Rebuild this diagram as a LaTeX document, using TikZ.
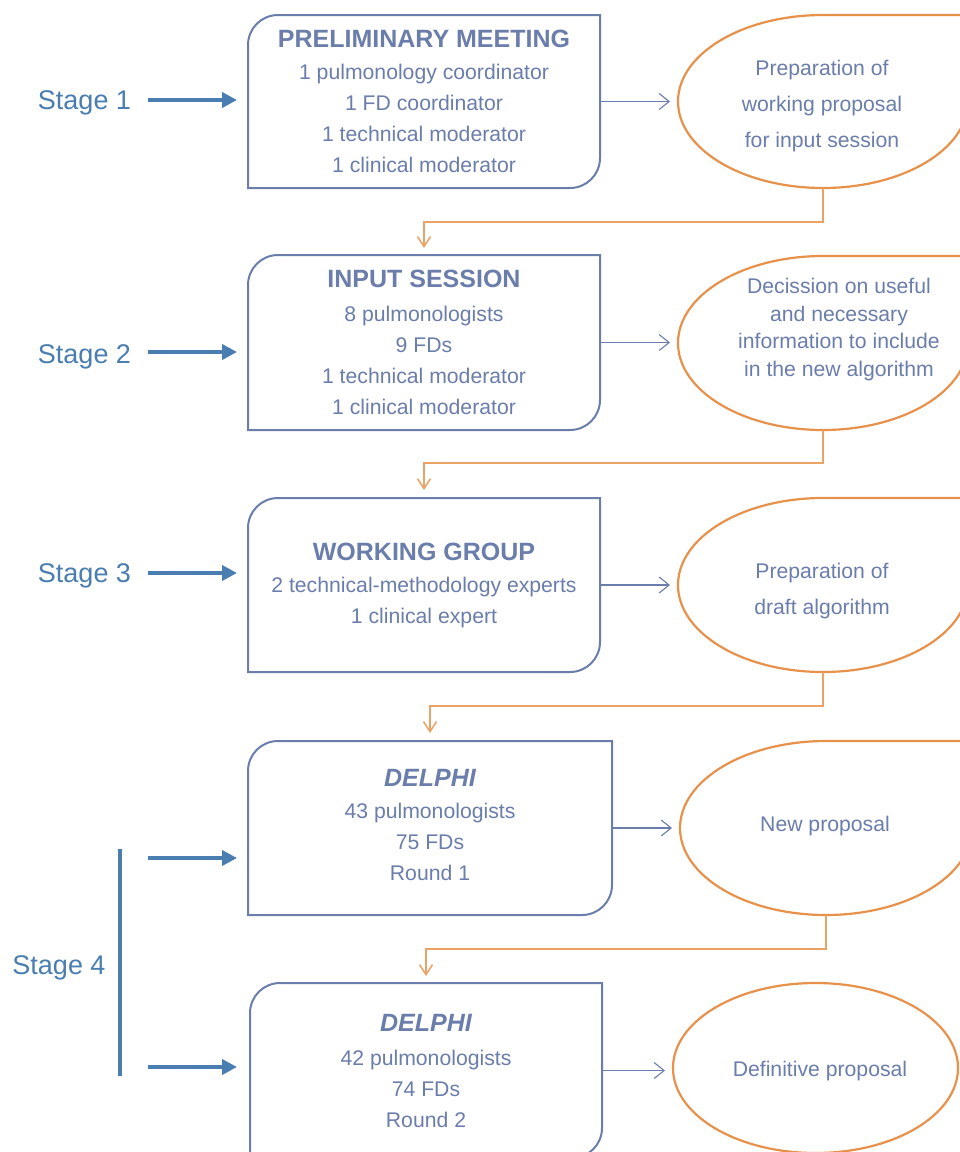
\documentclass[tikz,border=0pt]{standalone}
\usepackage{fontspec}
\setmainfont{Liberation Sans}
\usetikzlibrary{arrows.meta,shapes.geometric}
\definecolor{boxblue}{HTML}{6A7DAB}
\definecolor{stageblue}{HTML}{4A7DB0}
\definecolor{eorange}{HTML}{E8914A}
\newcommand\ttl[1]{{\fontsize{25}{31}\selectfont\bfseries #1}}
\newcommand\ttlit[1]{{\fontsize{25}{31}\selectfont\bfseries\itshape #1}}
\newcommand\rbox[1]{\draw[boxline] (#1.north east) -- ([yshift=30pt]#1.south east) arc[start angle=0,end angle=-90,radius=30pt] -- (#1.south west) -- ([yshift=-30pt]#1.north west) arc[start angle=180,end angle=90,radius=30pt] -- cycle;}
\newcommand\ebox[3]{\draw[eline] (#1.north) arc[start angle=90,end angle=270,x radius=#2pt,y radius=#3pt] arc[start angle=270,end angle=360,x radius=#2pt,y radius=#3pt] |- (#1.north) -- cycle;}
\begin{document}
\begin{tikzpicture}[x=1pt,y=1pt,
  boxline/.style={draw=boxblue,line width=2pt},
  boxnode/.style={rectangle,inner sep=0pt,outer sep=0pt,text=boxblue,align=center,font=\fontsize{21.2}{31}\selectfont},
  enode/.style={ellipse,inner sep=0pt,outer sep=0pt},
  eline/.style={draw=eorange,line width=2.2pt},
  etext/.style={text=boxblue,align=center,inner sep=0pt,font=\fontsize{21.2}{36}\selectfont},
  conn/.style={draw=boxblue,line width=1.1pt,-{Straight Barb[length=10pt,width=16pt]},shorten >=8pt},
  oconn/.style={draw=eorange!85,line width=1.5pt,-{Straight Barb[length=10pt,width=13pt]}},
  stagetext/.style={text=stageblue,inner sep=0pt,font=\fontsize{27}{32}\selectfont},
  stagearrow/.style={draw=stageblue,line width=4pt,-{Triangle[length=15pt,width=15pt]}},
  stageline/.style={draw=stageblue,line width=4pt}
]
\clip (0,0) rectangle (960,-1152);
\fill[white] (0,0) rectangle (960,-1152);

% boxes
\node[boxnode,minimum width=352pt,minimum height=173pt] (b1) at (424,-101.5)
  {\ttl{PRELIMINARY MEETING}\\[1pt]1 pulmonology coordinator\\1 FD coordinator\\1 technical moderator\\1 clinical moderator};
\node[boxnode,minimum width=352pt,minimum height=175pt] (b2) at (424,-342.5)
  {\ttl{INPUT SESSION}\\[3pt]8 pulmonologists\\9 FDs\\1 technical moderator\\1 clinical moderator};
\node[boxnode,minimum width=352pt,minimum height=174pt] (b3) at (424,-585)
  {\ttl{WORKING GROUP}\\[1pt]2 technical-methodology experts\\1 clinical expert};
\node[boxnode,minimum width=364pt,minimum height=174pt] (b4) at (430,-828) {};
\node[boxnode] (t4) at (430,-825)
  {\ttlit{DELPHI}\\[1pt]43 pulmonologists\\75 FDs\\Round 1};
\node[boxnode,minimum width=352pt,minimum height=175pt] (b5) at (426,-1070.5)
  {\ttlit{DELPHI}\\[3pt]42 pulmonologists\\74 FDs\\Round 2};
\rbox{b1}\rbox{b2}\rbox{b3}\rbox{b4}\rbox{b5}

% ellipses
\node[enode,minimum width=290pt,minimum height=173pt] (e1) at (823,-101.5) {};
\node[enode,minimum width=290pt,minimum height=174pt] (e2) at (823,-343) {};
\node[enode,minimum width=290pt,minimum height=174pt] (e3) at (823,-585) {};
\node[enode,minimum width=292pt,minimum height=174pt] (e4) at (826,-828) {};
\node[enode,eline,minimum width=285pt,minimum height=170pt] (e5) at (815.5,-1068) {};
\ebox{e1}{145}{86.5}\ebox{e2}{145}{87}\ebox{e3}{145}{87}\ebox{e4}{146}{87}

\node[etext] (x1) at (822,-106) {Preparation of\\working proposal\\for input session};
\node[etext,font=\fontsize{21.2}{27.6}\selectfont] (x2) at (839,-329.5) {Decission on useful\\and necessary\\information to include\\in the new algorithm};
\node[etext] (x3) at (822,-591) {Preparation of\\draft algorithm};
\node[etext] (x4) at (825,-826) {New proposal};
\node[etext] (x5) at (820,-1071) {Definitive proposal};

% box -> ellipse connectors
\draw[conn] (b1.east) -- (b1.east -| e1.west);
\draw[conn] (b2.east) -- (b2.east -| e2.west);
\draw[conn] (b3.east) -- (b3.east -| e3.west);
\draw[conn] (b4.east) -- (b4.east -| e4.west);
\draw[conn] (b5.east) -- (b5.east -| e5.west);

% ellipse -> next box connectors
\draw[oconn,shorten >=7pt] (e1.south) -- ++(0,-34) -| (b2.north);
\draw[oconn,shorten >=8pt] (e2.south) -- ++(0,-33) -| (b3.north);
\draw[oconn,shorten >=8pt] (e3.south) -- ++(0,-34) -| (b4.north);
\draw[oconn,shorten >=7pt] (e4.south) -- ++(0,-34) -| (b5.north);

% stages
\node[stagetext] (s1) at (84.5,-103) {Stage 1};
\node[stagetext] (s2) at (84.5,-357) {Stage 2};
\node[stagetext] (s3) at (84.5,-576) {Stage 3};
\node[stagetext] (s4) at (59,-968) {Stage 4};
\coordinate (a1) at (148,-100);
\coordinate (a2) at (148,-352);
\coordinate (a3) at (148,-573);
\coordinate (a4) at (148,-858);
\coordinate (a5) at (148,-1067);
\draw[stagearrow,shorten >=11pt] (a1) -- (a1 -| b1.west);
\draw[stagearrow,shorten >=11pt] (a2) -- (a2 -| b2.west);
\draw[stagearrow,shorten >=11pt] (a3) -- (a3 -| b3.west);
\draw[stagearrow,shorten >=11pt] (a4) -- (a4 -| b4.west);
\draw[stagearrow,shorten >=13pt] (a5) -- (a5 -| b5.west);
\coordinate (v1) at (120,-849);
\coordinate (v2) at (120,-1076);
\draw[stageline] (v1) -- (v2);
\end{tikzpicture}
\end{document}
